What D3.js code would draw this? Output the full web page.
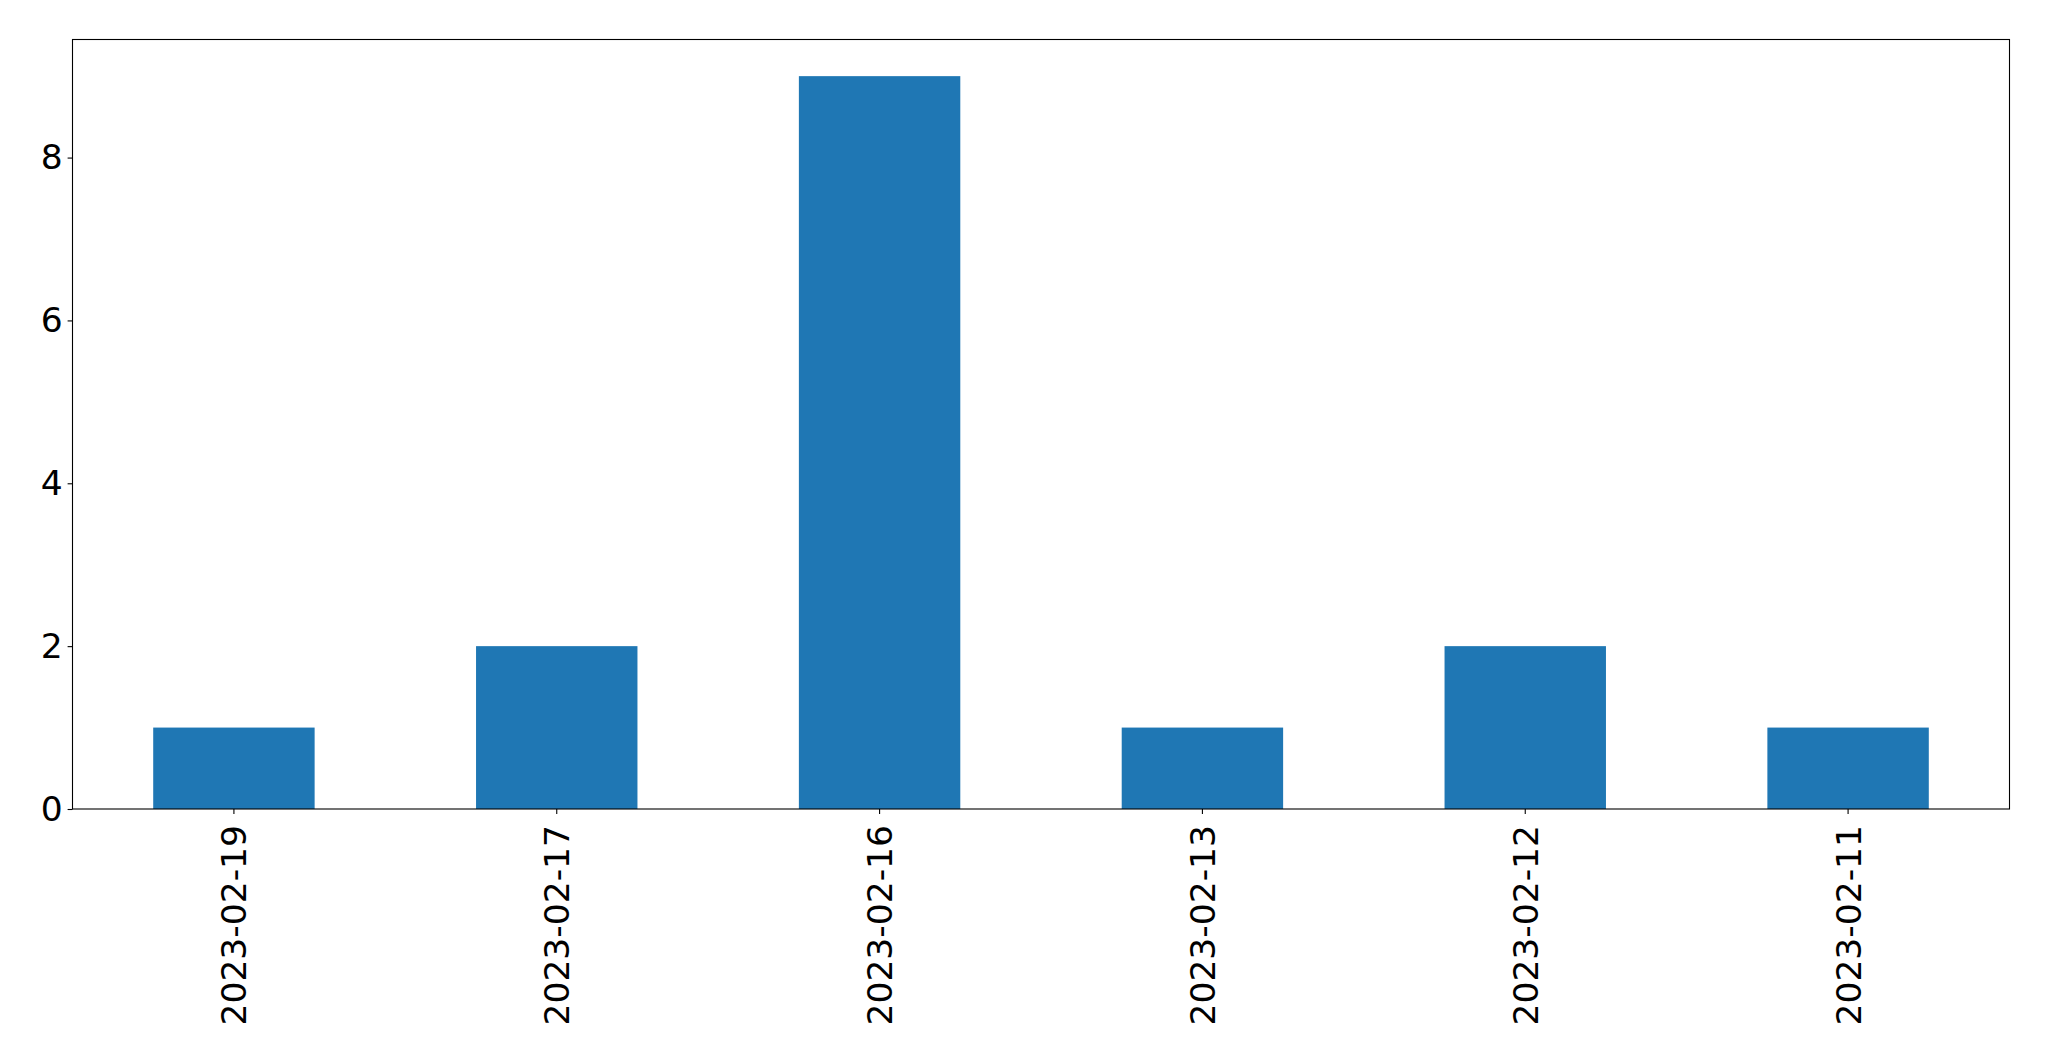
<!DOCTYPE html>
<html><head><meta charset="utf-8">
<script src="https://cdn.jsdelivr.net/npm/d3@7"></script>
<style>body{margin:0;background:#fff}svg{display:block}text{font-family:"DejaVu Sans",sans-serif}</style>
</head><body>
<svg id="c" width="2049" height="1061"></svg>
<script>
const categories = ["2023-02-19","2023-02-17","2023-02-16","2023-02-13","2023-02-12","2023-02-11"];
const values = [1,2,9,1,2,1];
const yTicks = [0,2,4,6,8];

const svg = d3.select("#c");
const L = 72.5, R = 2009.5, T = 39.5, B = 809;
const fs = 34.5;

const x = d3.scaleBand().domain(categories).range([L, R]).paddingInner(0.5).paddingOuter(0.25);
const y = d3.scaleLinear().domain([0, d3.max(values) * 1.05]).range([B, T]);

svg.append("g").selectAll("rect").data(values).join("rect")
  .attr("x", (d,i) => x(categories[i]))
  .attr("width", x.bandwidth())
  .attr("y", d => y(d))
  .attr("height", d => B - y(d))
  .attr("fill", "#1f77b4");

const yAxis = svg.append("g").attr("transform", `translate(${L},0)`)
  .call(d3.axisLeft(y).tickValues(yTicks).tickFormat(d3.format("d")).tickSize(4.9).tickPadding(4.9));
yAxis.select(".domain").remove();
yAxis.selectAll("line").attr("stroke", "#000").attr("stroke-width", 1.1);
yAxis.selectAll("text").attr("font-size", fs).attr("font-family", "DejaVu Sans").attr("fill", "#000");

const xAxis = svg.append("g").attr("transform", `translate(0,${B})`)
  .call(d3.axisBottom(x).tickSize(4.9).tickPadding(0));
xAxis.select(".domain").remove();
xAxis.selectAll("line").attr("stroke", "#000").attr("stroke-width", 1.1);
xAxis.selectAll("text")
  .attr("font-size", fs).attr("font-family", "DejaVu Sans").attr("fill", "#000")
  .attr("text-anchor", "end")
  .attr("transform", "translate(0,16) rotate(-90)")
  .attr("x", 0).attr("y", 0).attr("dy", "0.36em");

svg.append("rect").attr("x", L).attr("y", T).attr("width", R - L).attr("height", B - T)
  .attr("fill", "none").attr("stroke", "#000").attr("stroke-width", 1.1);
</script>
</body></html>
